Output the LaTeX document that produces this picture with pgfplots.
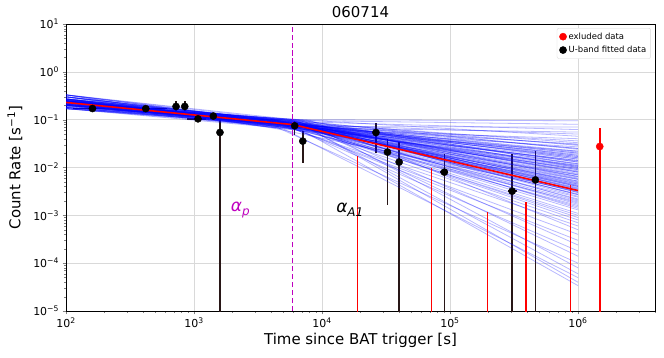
\documentclass[border=0pt]{standalone}
\usepackage{fontspec}
\setmainfont{DejaVu Sans}
\usepackage{pgfplots}
\pgfplotsset{compat=1.18}

\definecolor{mpm}{RGB}{191,0,191}
\definecolor{ebc}{RGB}{40,22,22}

% one posterior sample: start, break time, break rate, end
\newcommand{\bl}[4]{\addplot[blue, opacity=0.28, line width=0.8pt, forget plot] coordinates {(100,#1) (#2,#3) (1e6,#4)};}
% vertical error bar
\newcommand{\eb}[3]{\addplot[ebc, line width=1.6pt, forget plot] coordinates {(#1,#2) (#1,#3)};}
\newcommand{\rb}[2]{\addplot[draw=red, line width=1.6pt, forget plot] coordinates {(#1,1e-6) (#1,#2)};}
\newcommand{\ex}[3]{\addplot[ebc, line width=1.5pt, forget plot] coordinates {(#1,#3) (#2,#3)};}

\begin{document}
\begin{tikzpicture}
\begin{axis}[
    name=ax,
    scale only axis,
    width=589bp, height=287bp,
    xmode=log, ymode=log,
    xmin=100, xmax=4e6,
    ymin=1e-5, ymax=10,
    xtick={1e2,1e3,1e4,1e5,1e6},
    xticklabels={10\textsuperscript{2},10\textsuperscript{3},10\textsuperscript{4},10\textsuperscript{5},10\textsuperscript{6}},
    minor xtick={200,300,400,500,600,700,800,900,2000,3000,4000,5000,6000,7000,8000,9000,
        2e4,3e4,4e4,5e4,6e4,7e4,8e4,9e4,2e5,3e5,4e5,5e5,6e5,7e5,8e5,9e5,2e6,3e6,4e6},
    ytick={1e-5,1e-4,1e-3,1e-2,1e-1,1e0,1e1},
    yticklabels={10\textsuperscript{−5},10\textsuperscript{−4},10\textsuperscript{−3},10\textsuperscript{−2},10\textsuperscript{−1},10\textsuperscript{0},10\textsuperscript{1}},
    minor ytick={2e-5,3e-5,4e-5,5e-5,6e-5,7e-5,8e-5,9e-5,2e-4,3e-4,4e-4,5e-4,6e-4,7e-4,8e-4,9e-4,
        2e-3,3e-3,4e-3,5e-3,6e-3,7e-3,8e-3,9e-3,0.02,0.03,0.04,0.05,0.06,0.07,0.08,0.09,
        0.2,0.3,0.4,0.5,0.6,0.7,0.8,0.9,2,3,4,5,6,7,8,9},
    tick label style={font=\fontsize{11}{13}\selectfont},
    tick pos=left,
    tick align=outside,
    major tick length=3.5pt,
    minor tick length=2pt,
    grid=major,
    major grid style={gray!30, line width=0.6pt},
    axis line style={black, line width=0.6pt},
    xlabel={Time since BAT trigger [s]},
    ylabel={Count Rate [s\textsuperscript{−1}]},
    label style={font=\fontsize{15}{18}\selectfont},
    xlabel style={at={(axis description cs:0.5,-0.101)}, anchor=center},
    ylabel style={at={(axis description cs:-0.0866,0.5)}, anchor=center},
    title={060714},
    title style={font=\fontsize{15}{18}\selectfont, at={(axis description cs:0.5,1.04)}, anchor=center, yshift=-6pt},
    legend style={at={(0.993,0.986)}, anchor=north east, draw=gray!30, rounded corners=2pt,
        font=\fontsize{8.5}{10}\selectfont, inner sep=2.5pt, row sep=1.5pt},
    legend cell align=left,
]

% error bars of the fitted points
\eb{1596}{1e-6}{0.11}
\eb{724}{0.15}{0.24}
\eb{847}{0.15}{0.24}
\eb{6120}{0.048}{0.092}
\eb{7080}{0.0125}{0.058}
\eb{26400}{0.0199}{0.087}
\eb{32500}{0.00167}{0.039}
\eb{40100}{1e-6}{0.034}
\eb{90400}{1e-6}{0.019}
\eb{306000}{1e-6}{0.019}
\eb{465000}{1e-6}{0.0223}
\ex{113}{200}{0.171}
\ex{320}{620}{0.17}
\ex{880}{1250}{0.104}
\ex{83000}{97000}{0.008}
\ex{285000}{335000}{0.0032}

% posterior samples
\bl{0.23}{6000}{0.1}{0.095}
\bl{0.27}{5000}{0.097}{0.08}
\bl{0.2}{7000}{0.072}{0.07}
\bl{0.3}{5500}{0.092}{0.062}
\bl{0.18}{6500}{0.068}{0.055}
\bl{0.25}{4500}{0.082}{0.05}
\bl{0.21}{8000}{0.097}{0.045}
\bl{0.33}{6000}{0.064}{0.04}
\bl{0.17}{5000}{0.079}{0.036}
\bl{0.24}{7000}{0.086}{0.033}
\bl{0.23}{5500}{0.072}{0.031}
\bl{0.27}{6500}{0.092}{0.029}
\bl{0.2}{4500}{0.068}{0.027}
\bl{0.3}{8000}{0.082}{0.025}
\bl{0.18}{6000}{0.097}{0.024}
\bl{0.25}{5000}{0.064}{0.022}
\bl{0.21}{7000}{0.079}{0.021}
\bl{0.33}{5500}{0.086}{0.02}
\bl{0.17}{6500}{0.072}{0.019}
\bl{0.24}{4500}{0.092}{0.018}
\bl{0.23}{8000}{0.068}{0.017}
\bl{0.27}{6000}{0.082}{0.016}
\bl{0.2}{5000}{0.097}{0.015}
\bl{0.3}{7000}{0.064}{0.014}
\bl{0.18}{5500}{0.079}{0.0135}
\bl{0.25}{6500}{0.086}{0.013}
\bl{0.21}{4500}{0.072}{0.012}
\bl{0.33}{8000}{0.092}{0.0115}
\bl{0.17}{6000}{0.068}{0.011}
\bl{0.24}{5000}{0.082}{0.0105}
\bl{0.23}{7000}{0.097}{0.01}
\bl{0.27}{5500}{0.064}{0.0095}
\bl{0.2}{6500}{0.079}{0.009}
\bl{0.3}{4500}{0.086}{0.0085}
\bl{0.18}{8000}{0.072}{0.008}
\bl{0.25}{6000}{0.092}{0.0075}
\bl{0.21}{5000}{0.068}{0.007}
\bl{0.33}{7000}{0.082}{0.0065}
\bl{0.17}{5500}{0.097}{0.006}
\bl{0.24}{6500}{0.064}{0.0056}
\bl{0.23}{4500}{0.079}{0.0052}
\bl{0.27}{8000}{0.086}{0.0048}
\bl{0.2}{6000}{0.072}{0.0045}
\bl{0.3}{5000}{0.092}{0.0042}
\bl{0.18}{7000}{0.068}{0.004}
\bl{0.25}{5500}{0.082}{0.0037}
\bl{0.21}{6500}{0.097}{0.0035}
\bl{0.33}{4500}{0.064}{0.0032}
\bl{0.17}{8000}{0.079}{0.003}
\bl{0.24}{6000}{0.086}{0.0027}
\bl{0.23}{5000}{0.072}{0.0024}
\bl{0.27}{7000}{0.092}{0.0021}
\bl{0.2}{5500}{0.068}{0.0019}
\bl{0.3}{6500}{0.082}{0.0017}
\bl{0.18}{4500}{0.097}{0.0015}
\bl{0.25}{8000}{0.064}{0.0013}
\bl{0.21}{6000}{0.079}{0.0011}
\bl{0.33}{5000}{0.086}{0.001}
\bl{0.17}{7000}{0.072}{0.0009}
\bl{0.24}{5500}{0.092}{0.0008}
\bl{0.23}{6500}{0.068}{0.0007}
\bl{0.27}{4500}{0.082}{0.0006}
\bl{0.2}{8000}{0.097}{0.0005}
\bl{0.3}{6000}{0.064}{0.0004}
\bl{0.18}{5000}{0.079}{0.0003}
\bl{0.25}{7000}{0.086}{0.00024}
\bl{0.21}{5500}{0.072}{0.00018}
\bl{0.33}{6500}{0.092}{0.00014}
\bl{0.17}{4500}{0.068}{0.0001}
\bl{0.24}{8000}{0.082}{0.00008}
\bl{0.23}{6000}{0.097}{0.00006}
\bl{0.27}{5000}{0.064}{0.00005}
\bl{0.2}{7000}{0.079}{0.00004}
\bl{0.3}{5500}{0.086}{0.000034}
% denser core of the band
\bl{0.22}{6000}{0.08}{0.025}
\bl{0.25}{5500}{0.078}{0.02}
\bl{0.2}{6500}{0.082}{0.017}
\bl{0.27}{5000}{0.076}{0.014}
\bl{0.23}{7000}{0.084}{0.012}
\bl{0.21}{6000}{0.074}{0.01}
\bl{0.26}{5500}{0.08}{0.009}
\bl{0.19}{6500}{0.077}{0.008}
\bl{0.24}{5000}{0.083}{0.007}
\bl{0.22}{7000}{0.079}{0.0063}
\bl{0.28}{6000}{0.075}{0.0057}
\bl{0.2}{5500}{0.081}{0.0052}
\bl{0.25}{6500}{0.078}{0.0047}
\bl{0.23}{5000}{0.085}{0.0043}
\bl{0.21}{7000}{0.076}{0.004}
\bl{0.26}{6000}{0.08}{0.0036}
\bl{0.19}{5500}{0.083}{0.0033}
\bl{0.24}{6500}{0.077}{0.003}
\bl{0.22}{5000}{0.079}{0.0028}
\bl{0.27}{7000}{0.081}{0.0025}
\bl{0.2}{6000}{0.078}{0.0022}
\bl{0.25}{5500}{0.082}{0.002}
\bl{0.23}{6500}{0.08}{0.0018}
\bl{0.21}{5000}{0.076}{0.0016}
\bl{0.26}{7000}{0.084}{0.0014}
\bl{0.22}{6000}{0.079}{0.016}
\bl{0.24}{5500}{0.081}{0.013}
\bl{0.2}{6500}{0.077}{0.011}
\bl{0.27}{5000}{0.08}{0.0095}
\bl{0.23}{7000}{0.078}{0.0082}
\bl{0.21}{6000}{0.083}{0.0072}
\bl{0.25}{5500}{0.076}{0.0065}
\bl{0.19}{6500}{0.08}{0.0058}
\bl{0.26}{5000}{0.079}{0.005}
\bl{0.22}{7000}{0.082}{0.0045}
\bl{0.24}{6000}{0.078}{0.0041}
\bl{0.2}{5500}{0.08}{0.0038}
\bl{0.23}{6500}{0.079}{0.0034}
\bl{0.25}{5000}{0.081}{0.0031}
\bl{0.21}{7000}{0.077}{0.0027}
\bl{0.22}{6000}{0.08}{0.03}
\bl{0.24}{5500}{0.082}{0.022}
\bl{0.26}{6500}{0.079}{0.018}
\bl{0.2}{5000}{0.078}{0.015}
\bl{0.23}{7000}{0.081}{0.0105}

% best fit
\addplot[red, line width=1.6pt, forget plot] coordinates {(100,0.229) (5900,0.079) (1e6,0.0033)};

% break time
\addplot[mpm, line width=1.5pt, dash pattern=on 5.5pt off 2.5pt, forget plot] coordinates {(5900,1e-6) (5900,100)};

% excluded data
\rb{19000}{0.0178}
\rb{72000}{0.01}
\rb{196000}{0.0012}
\rb{394000}{0.00186}
\rb{875000}{0.0044}
\addplot[red, line width=1.6pt, forget plot] coordinates {(1.48e6,1e-6) (1.48e6,0.066)};
\addplot[only marks, mark=*, mark size=3.6pt, red] coordinates {(1.48e6,0.0275)};
\addlegendentry{exluded data}

\addplot[only marks, mark=*, mark size=3.6pt, black] coordinates {
    (161,0.171) (420,0.17) (724,0.189) (847,0.189) (1075,0.104) (1416,0.119)
    (1596,0.054) (6120,0.0745) (7080,0.0356) (26400,0.054) (32500,0.021)
    (40100,0.013) (90400,0.008) (306000,0.0032) (465000,0.0055)
};
\addlegendentry{U-band fitted data}

\node[mpm, font=\fontsize{17}{17}\selectfont\itshape] at (axis cs:2300,0.0013) {α\raisebox{-0.45ex}{\fontsize{12}{12}\selectfont p}};
\node[black, font=\fontsize{17}{17}\selectfont\itshape] at (axis cs:16500,0.0013) {α\raisebox{-0.45ex}{\fontsize{12}{12}\selectfont A1}};
\end{axis}
\pgfresetboundingbox
\path[use as bounding box] ([xshift=-66bp,yshift=-47bp]ax.south west) rectangle ([xshift=9bp,yshift=24bp]ax.north east);
\end{tikzpicture}
\end{document}
